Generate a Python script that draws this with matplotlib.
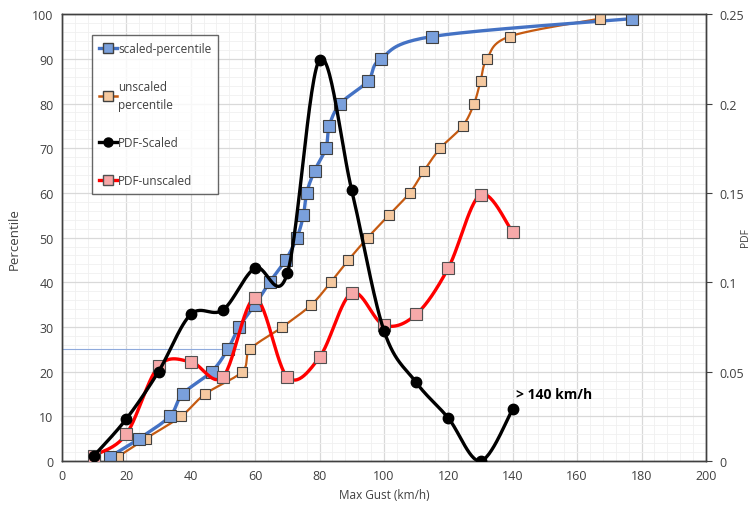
import numpy as np
import matplotlib
matplotlib.use("Agg")
import matplotlib.pyplot as plt
from matplotlib.lines import Line2D
from matplotlib.ticker import MultipleLocator

plt.rcParams['font.family'] = ['Open Sans', 'DejaVu Sans']

# percentile curves (left axis)
scaled_gust = [15, 24, 33.5, 37.5, 46.5, 51.5, 55, 60, 64.5, 69.5, 73, 75, 76, 78.5, 82, 83, 86.5, 95, 99, 115, 177]
scaled_pct = [1, 5, 10, 15, 20, 25, 30, 35, 40, 45, 50, 55, 60, 65, 70, 75, 80, 85, 90, 95, 99]
unscaled_gust = [17.5, 26, 37, 44.5, 56, 58.5, 68.5, 77.5, 83.5, 89, 95, 101.5, 108, 112.5, 117.5, 124.5, 128, 130, 132, 139, 167]
unscaled_pct = [1, 5, 10, 15, 20, 25, 30, 35, 40, 45, 50, 55, 60, 65, 70, 75, 80, 85, 90, 95, 99]

# PDFs (right axis)
pdf_gust = [10, 20, 30, 40, 50, 60, 70, 80, 90, 100, 110, 120, 130, 140]
pdf_scaled = [0.003, 0.0235, 0.050, 0.082, 0.0845, 0.108, 0.105, 0.2245, 0.1515, 0.073, 0.044, 0.024, 0.0, 0.029]
pdf_unscaled = [0.003, 0.015, 0.053, 0.0555, 0.047, 0.091, 0.047, 0.058, 0.094, 0.076, 0.082, 0.108, 0.149, 0.128]

pdf_ticks = [0, 0.05, 0.1, 0.15, 0.2, 0.25]
pdf_ticklabels = ['0', '0.05', '0.1', '0.15', '0.2', '0.25']


def smooth(xs, ys, n=30):
    # Excel-style smoothed line (Catmull-Rom through the points)
    p = np.column_stack([xs, ys]).astype(float)
    p = np.vstack([p[0], p, p[-1]])
    t = np.linspace(0, 1, n)[:, None]
    out = []
    for i in range(1, len(p) - 2):
        p0, p1, p2, p3 = p[i - 1], p[i], p[i + 1], p[i + 2]
        c1 = p1 + (p2 - p0) / 6
        c2 = p2 - (p3 - p1) / 6
        seg = ((1 - t) ** 3 * p1 + 3 * (1 - t) ** 2 * t * c1
               + 3 * (1 - t) * t ** 2 * c2 + t ** 3 * p2)
        out.append(seg)
    out = np.vstack(out)
    return out[:, 0], out[:, 1]


fig = plt.figure(figsize=(7.55, 5.06), dpi=100)
ax = fig.add_axes([0.082, 0.087, 0.853, 0.883])
ax2 = ax.twinx()

blue = '#4472C4'
orange = '#C55A11'
red = '#FF0000'

ax.set_xlim(0, 200)
ax.set_ylim(0, 100)
ax2.set_ylim(0, 0.25)

ax.xaxis.set_major_locator(MultipleLocator(20))
ax.xaxis.set_minor_locator(MultipleLocator(4))
ax.yaxis.set_major_locator(MultipleLocator(10))
ax.yaxis.set_minor_locator(MultipleLocator(2))
ax2.set_yticks(pdf_ticks)
ax2.set_yticklabels(pdf_ticklabels)
ax.grid(which='major', color='#d9d9d9', linewidth=0.9)
ax.grid(which='minor', color='#f0f0f0', linewidth=0.6)
ax.set_axisbelow(True)

for a in (ax, ax2):
    for s in a.spines.values():
        s.set_color('#404040')
        s.set_linewidth(1.0)

ax.tick_params(which='both', length=0, labelsize=9, colors='#404040', pad=6)
ax2.tick_params(axis='y', length=4, labelsize=9, colors='#404040', pad=6, direction='out')

# thin reference line at the 25th percentile
ax.plot([0, 55], [25, 25], color='#8faadc', linewidth=0.8, zorder=2)

sx, sy = smooth(unscaled_gust, unscaled_pct)
ax.plot(sx, sy, color=orange, linewidth=1.6, zorder=3)
ax.plot(unscaled_gust, unscaled_pct, linestyle='none', marker='s', markersize=7.5,
        markerfacecolor='#f5c9a0', markeredgecolor='#404040', markeredgewidth=0.8, zorder=4)

sx, sy = smooth(scaled_gust, scaled_pct)
ax.plot(sx, sy, color=blue, linewidth=2.4, zorder=3)
ax.plot(scaled_gust, scaled_pct, linestyle='none', marker='s', markersize=8,
        markerfacecolor='#7aa0dc', markeredgecolor='#404040', markeredgewidth=0.8, zorder=4)

sx, sy = smooth(pdf_gust, pdf_unscaled)
ax2.plot(sx, sy, color=red, linewidth=2.4, zorder=3)
ax2.plot(pdf_gust, pdf_unscaled, linestyle='none', marker='s', markersize=8.5,
         markerfacecolor='#f6a9a9', markeredgecolor='#505050', markeredgewidth=0.8, zorder=4)

sx, sy = smooth(pdf_gust, pdf_scaled)
ax2.plot(sx, sy, color='black', linewidth=2.4, zorder=5)
ax2.plot(pdf_gust, pdf_scaled, linestyle='none', marker='o', markersize=7.5,
         color='black', zorder=6)

ax2.text(141, 0.0335, '> 140 km/h', fontsize=10, fontweight='bold', ha='left', va='bottom')

ax.set_xlabel('Max Gust (km/h)', fontsize=8.5, color='#404040', labelpad=4)
ax.set_ylabel('Percentile', fontsize=9.5, color='#404040', labelpad=8)
fig.text(0.988, 0.53, 'PDF', rotation=90, fontsize=7.5, color='#404040',
         ha='center', va='center')

handles = [
    Line2D([], [], color=blue, linewidth=2.4, marker='s', markersize=6.5,
           markerfacecolor='#7aa0dc', markeredgecolor='#404040'),
    Line2D([], [], color=orange, linewidth=1.8, marker='s', markersize=6.5,
           markerfacecolor='#f5c9a0', markeredgecolor='#404040'),
    Line2D([], [], color='black', linewidth=2.4, marker='o', markersize=6.5),
    Line2D([], [], color=red, linewidth=2.4, marker='s', markersize=6.5,
           markerfacecolor='#f6a9a9', markeredgecolor='#505050'),
]
labels = ['scaled-percentile', 'unscaled\npercentile', 'PDF-Scaled', 'PDF-unscaled']
leg = ax2.legend(handles, labels, loc='upper left', bbox_to_anchor=(0.047, 0.953),
                 fontsize=8.5, frameon=True, fancybox=False, edgecolor='#404040',
                 labelspacing=2.1, handlelength=1.5, handletextpad=0.1,
                 borderpad=0.6, borderaxespad=0)
leg.get_frame().set_linewidth(1.0)
for t in leg.get_texts():
    t.set_color('#404040')
    t.set_linespacing(1.5)

fig.savefig('out.png', dpi=100)
